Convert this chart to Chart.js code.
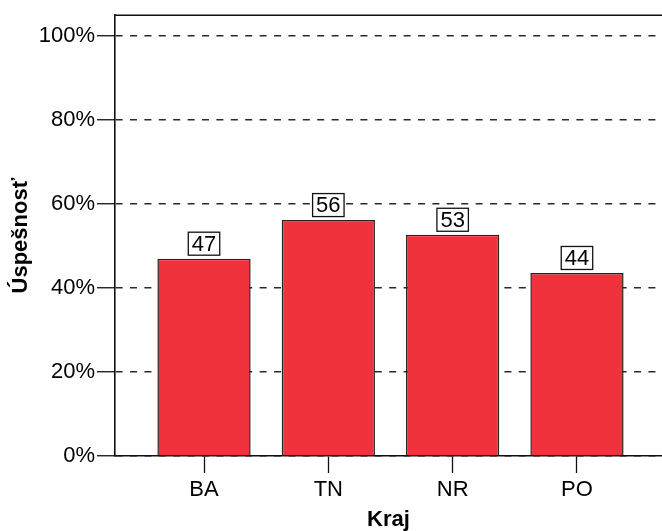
<!DOCTYPE html>
<html>
<head>
<meta charset="utf-8">
<script src="https://cdn.jsdelivr.net/npm/chart.js@4/dist/chart.umd.min.js"></script>
<style>
  html, body { margin: 0; padding: 0; background: #fff; }
  #wrap { width: 662px; height: 531px; position: relative; }
</style>
</head>
<body>
<div id="wrap"><canvas id="chart"></canvas></div>
<script>
const categories = ["BA", "TN", "NR", "PO"];
const successValues = [47.0, 56.2, 52.7, 43.6];
const labelValues = ["47", "56", "53", "44"];
const yTicks = [0, 20, 40, 60, 80, 100];

const fontFamily = '"Liberation Sans", Arial, sans-serif';

// boxed value labels above the bars
const boxLabels = {
    id: 'boxLabels',
    afterDatasetsDraw(chart) {
        const ctx = chart.ctx;
        const meta = chart.getDatasetMeta(0);
        ctx.save();
        ctx.font = `22px ${fontFamily}`;
        ctx.textAlign = 'center';
        ctx.textBaseline = 'middle';
        meta.data.forEach((bar, i) => {
            const text = labelValues[i];
            const w = ctx.measureText(text).width + 8;
            const h = 24;
            const x = bar.x - w / 2;
            const y = bar.y - 3 - h;
            ctx.fillStyle = '#fff';
            ctx.fillRect(x, y, w, h);
            ctx.strokeStyle = '#111';
            ctx.lineWidth = 1.3;
            ctx.strokeRect(x + 0.5, y + 0.5, w - 1, h - 1);
            ctx.fillStyle = '#000';
            ctx.fillText(text, bar.x, y + h / 2 + 1);
        });
        ctx.restore();
    }
};

// top frame line of the plot area
const topFrame = {
    id: 'topFrame',
    afterDraw(chart) {
        const { ctx, chartArea } = chart;
        ctx.save();
        ctx.strokeStyle = '#111';
        ctx.lineWidth = 1.6;
        ctx.beginPath();
        ctx.moveTo(chartArea.left, chartArea.top);
        ctx.lineTo(chartArea.right, chartArea.top);
        ctx.stroke();
        ctx.restore();
    }
};

new Chart(document.getElementById('chart'), {
    type: 'bar',
    data: {
        datasets: [{
            data: successValues.map((v, i) => ({ x: i, y: v })),
            backgroundColor: '#f0323c',
            borderColor: '#222',
            borderWidth: 1.5,
            barPercentage: 0.75,
            categoryPercentage: 1
        }]
    },
    options: {
        responsive: true,
        maintainAspectRatio: false,
        animation: false,
        layout: { padding: { top: 13, right: 0, left: 0, bottom: 0 } },
        plugins: {
            legend: { display: false },
            tooltip: { enabled: false }
        },
        scales: {
            x: {
                type: 'linear',
                offset: false,
                min: -0.716,
                max: 3.684,
                afterBuildTicks: (scale) => {
                    scale.ticks = categories.map((c, i) => ({ value: i }));
                },
                afterFit: (scale) => { scale.height = 75; },
                ticks: {
                    callback: (v) => categories[v],
                    color: '#000',
                    font: { family: fontFamily, size: 22 },
                    padding: 4,
                    maxRotation: 0
                },
                grid: {
                    offset: false,
                    drawOnChartArea: false,
                    drawTicks: true,
                    tickLength: 17,
                    tickColor: '#111',
                    tickWidth: 1.3
                },
                border: { color: '#111', width: 1.6 },
                title: {
                    display: true,
                    text: 'Kraj',
                    color: '#000',
                    font: { family: fontFamily, size: 22, weight: 'bold', lineHeight: 1 },
                    padding: { top: 0, bottom: 0 }
                }
            },
            y: {
                min: 0,
                max: 105,
                afterBuildTicks: (scale) => {
                    scale.ticks = yTicks.map(v => ({ value: v }));
                },
                afterFit: (scale) => { scale.width = 115; },
                ticks: {
                    callback: (v) => v + '%',
                    color: '#000',
                    font: { family: fontFamily, size: 22 },
                    padding: 2
                },
                grid: {
                    color: '#2a2a2a',
                    lineWidth: 1.5,
                    tickLength: 18,
                    tickColor: '#111',
                    tickWidth: 1.3,
                    tickBorderDash: []
                },
                border: { color: '#111', width: 1.6, dash: [7, 7.4] },
                title: {
                    display: true,
                    text: 'Úspešnosť',
                    color: '#000',
                    font: { family: fontFamily, size: 22, weight: 'bold', lineHeight: 1 },
                    padding: { top: 10, bottom: 0 }
                }
            }
        }
    },
    plugins: [boxLabels, topFrame]
});
</script>
</body>
</html>
